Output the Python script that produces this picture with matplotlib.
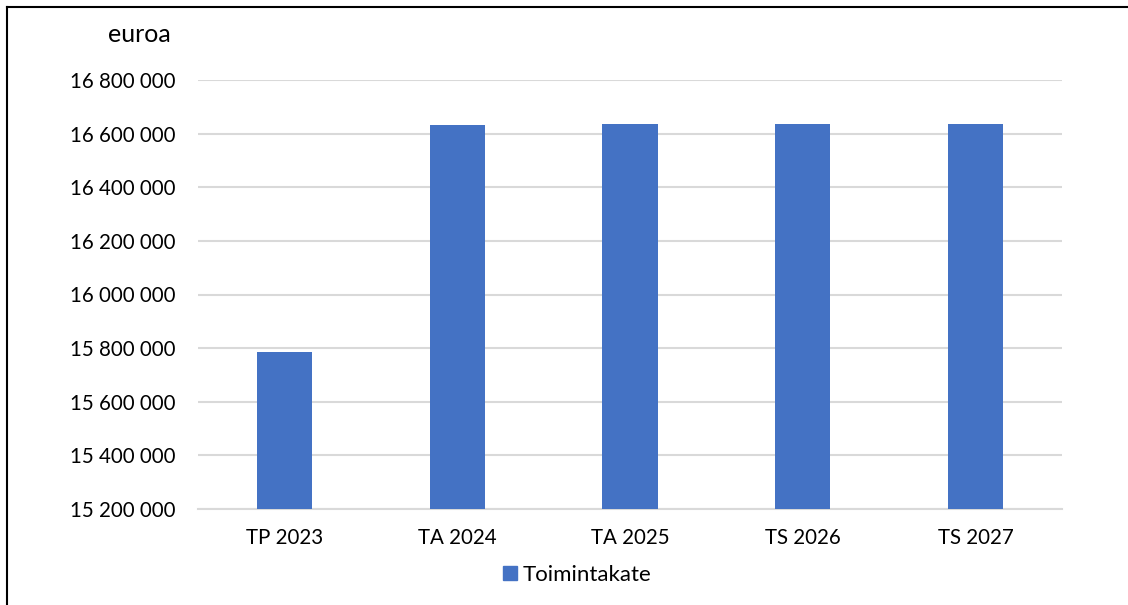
import matplotlib.pyplot as plt
from matplotlib.lines import Line2D
from matplotlib.patches import Patch

categories = ['TP 2023', 'TA 2024', 'TA 2025', 'TS 2026', 'TS 2027']
toimintakate = [15784000, 16631000, 16637000, 16637000, 16637000]
yticks = [15200000, 15400000, 15600000, 15800000, 16000000,
          16200000, 16400000, 16600000, 16800000]

plt.rcParams['font.family'] = ['Lato', 'DejaVu Sans']

fig = plt.figure(figsize=(11.28, 6.05), dpi=100)
ax = fig.add_axes([198 / 1128, 1 - 509 / 605, (1062 - 198) / 1128, (509 - 80) / 605])

x = list(range(len(categories)))
ax.bar(x, toimintakate, width=0.32, color='#4472c4', zorder=3)

ax.set_xlim(-0.5, len(categories) - 0.5)
ax.set_ylim(15200000, 16800000)
ax.set_yticks(yticks)
ax.set_yticklabels([f'{v:,}'.replace(',', ' ') for v in yticks])
ax.set_xticks(x)
ax.set_xticklabels(categories)
ax.grid(axis='y', color='#d9d9d9', linewidth=1.5, zorder=0)
ax.tick_params(axis='both', length=0, labelsize=14.8, colors='black')
ax.tick_params(axis='y', pad=16)
ax.tick_params(axis='x', pad=14)
for side in ['top', 'right', 'left']:
    ax.spines[side].set_visible(False)
ax.spines['bottom'].set_color('#d9d9d9')
ax.spines['bottom'].set_linewidth(1.5)

fig.text(171 / 1128, 1 - 35 / 605, 'euroa', ha='right', va='center', fontsize=18)

fig.legend(handles=[Patch(color='#4472c4', label='Toimintakate')],
           loc='center', bbox_to_anchor=(577 / 1128, 1 - 575 / 605),
           frameon=False, fontsize=16, handlelength=0.62, handleheight=0.62,
           handletextpad=0.25)

# outer frame (top and left edges visible)
fig.add_artist(Line2D([7 / 1128, 1], [1 - 7 / 605, 1 - 7 / 605], color='black', linewidth=1.5))
fig.add_artist(Line2D([7 / 1128, 7 / 1128], [0, 1 - 7 / 605], color='black', linewidth=1.5))

fig.savefig('out.png', dpi=100)
